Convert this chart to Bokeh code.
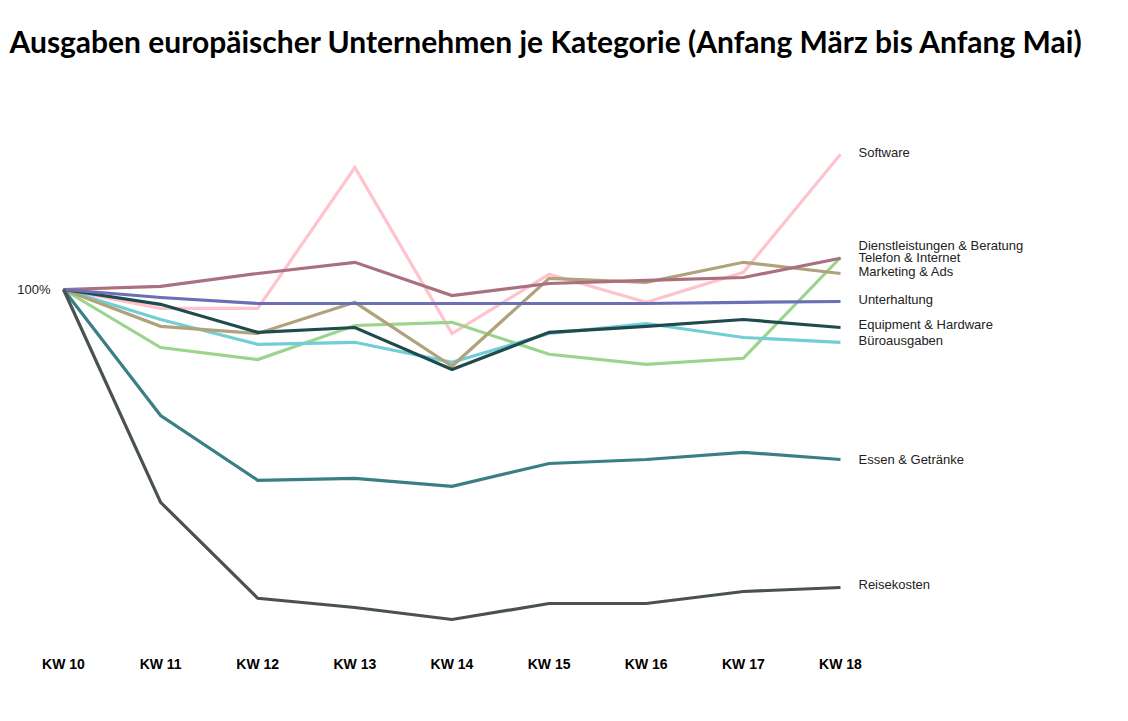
from bokeh.plotting import figure
from bokeh.models import FixedTicker, Title
from bokeh.core.properties import value
from bokeh.embed import file_html
from bokeh.resources import INLINE

weeks = ["KW 10", "KW 11", "KW 12", "KW 13", "KW 14", "KW 15", "KW 16", "KW 17", "KW 18"]

software = [100, 95.3, 95.3, 130.5, 89.0, 103.8, 96.8, 104.3, 133.8]
dienstleistungen = [100, 100.8, 104.0, 106.8, 98.5, 101.5, 102.3, 103.0, 107.8]
telefon = [100, 85.5, 82.5, 91.0, 91.8, 83.8, 81.3, 82.8, 108.0]
marketing = [100, 90.8, 89.0, 96.8, 80.8, 102.8, 101.8, 106.8, 104.0]
unterhaltung = [100, 98.0, 96.5, 96.5, 96.5, 96.5, 96.5, 96.8, 97.0]
equipment = [100, 96.3, 89.3, 90.5, 80.0, 89.3, 90.8, 92.5, 90.5]
buero = [100, 92.5, 86.3, 86.8, 81.8, 89.0, 91.5, 88.0, 86.8]
essen = [100, 68.5, 52.3, 52.8, 50.8, 56.5, 57.5, 59.3, 57.5]
reise = [100, 46.8, 22.8, 20.5, 17.5, 21.5, 21.5, 24.5, 25.5]

names = ["Software", "Dienstleistungen & Beratung", "Telefon & Internet", "Marketing & Ads",
         "Unterhaltung", "Equipment & Hardware", "Büroausgaben", "Essen & Getränke", "Reisekosten"]
series = [software, dienstleistungen, telefon, marketing, unterhaltung, equipment, buero, essen, reise]
colors = ["#FFC3CD", "#A9707F", "#9BD48C", "#B0A27A", "#6B6FB5", "#1F4B4E", "#72CDD6", "#3A7F86", "#4A524F"]
# label nudges (data units) to avoid overlapping end labels
nudge = [0.5, 3.2, 0.0, 0.5, 0.5, 0.8, 0.5, 0.0, 0.8]
draw_order = [0, 2, 6, 3, 5, 1, 4, 7, 8]

xs = list(range(len(weeks)))

p = figure(width=1110, height=690, output_backend="svg", toolbar_location=None,
           x_range=(-0.031, 10.677), y_range=(11.0, 154.75),
           min_border_left=60, min_border_right=10, min_border_bottom=45, min_border_top=70)

p.title = Title(text="Ausgaben europäischer Unternehmen je Kategorie (Anfang März bis Anfang Mai)",
                text_font="Lato", text_font_size="30px", text_font_style="bold",
                text_color="#000000", align="left", offset=-51, standoff=24)

for i in draw_order:
    p.line(xs, series[i], line_color=colors[i], line_width=3.2, line_join="miter")

label_y = [s[-1] + n for s, n in zip(series, nudge)]
p.text(x=[xs[-1]] * len(names), y=label_y, text=names, x_offset=18,
       text_baseline="middle", text_align="left",
       text_font=value("Liberation Sans"), text_font_size="13px", text_color="#222222")

p.outline_line_color = None
p.grid.grid_line_color = None
p.background_fill_color = "white"
p.border_fill_color = "white"

p.xaxis.ticker = FixedTicker(ticks=xs)
p.xaxis.major_label_overrides = {i: w for i, w in enumerate(weeks)}
p.xaxis.axis_line_color = None
p.xaxis.major_tick_line_color = None
p.xaxis.minor_tick_line_color = None
p.xaxis.major_label_standoff = 4
p.xaxis.major_label_text_font = "Liberation Sans"
p.xaxis.major_label_text_font_style = "bold"
p.xaxis.major_label_text_font_size = "14px"
p.xaxis.major_label_text_color = "#000000"

p.yaxis.ticker = FixedTicker(ticks=[100])
p.yaxis.major_label_overrides = {100: "100%"}
p.yaxis.axis_line_color = None
p.yaxis.major_tick_line_color = None
p.yaxis.minor_tick_line_color = None
p.yaxis.major_label_standoff = 4
p.yaxis.major_label_text_font = "Liberation Sans"
p.yaxis.major_label_text_font_size = "13px"
p.yaxis.major_label_text_color = "#222222"

open("out.html", "w").write(file_html(p, INLINE))
